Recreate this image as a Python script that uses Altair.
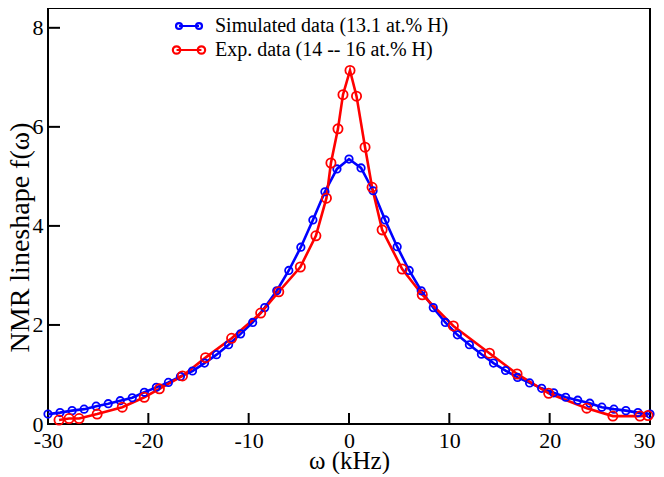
import altair as alt
import pandas as pd

FONT = "Liberation Serif"
SIM_LABEL = "Simulated data (13.1 at.% H)"
EXP_LABEL = "Exp. data (14 -- 16 at.% H)"

# Simulated data (blue)
sim_x = [-30.0, -28.8, -27.6, -26.4, -25.2, -24.0, -22.8, -21.6, -20.4, -19.2,
         -18.0, -16.8, -15.6, -14.4, -13.2, -12.0, -10.8, -9.6, -8.4, -7.2,
         -6.0, -4.8, -3.6, -2.4, -1.2, 0.0, 1.2, 2.4, 3.6, 4.8,
         6.0, 7.2, 8.4, 9.6, 10.8, 12.0, 13.2, 14.4, 15.6, 16.8,
         18.0, 19.2, 20.4, 21.6, 22.8, 24.0, 25.2, 26.4, 27.6, 28.8, 30.0]
sim_y = [0.20, 0.23, 0.27, 0.30, 0.36, 0.41, 0.47, 0.53, 0.64, 0.74,
         0.84, 0.96, 1.07, 1.23, 1.40, 1.60, 1.82, 2.05, 2.35, 2.69,
         3.10, 3.57, 4.12, 4.69, 5.15, 5.35, 5.17, 4.71, 4.12, 3.58,
         3.10, 2.69, 2.35, 2.05, 1.80, 1.60, 1.41, 1.23, 1.08, 0.94,
         0.83, 0.72, 0.63, 0.54, 0.48, 0.42, 0.34, 0.30, 0.27, 0.23, 0.20]

exp_x = [-28.9, -27.9, -26.9, -25.1, -22.6, -20.4, -18.9, -16.6, -14.3, -11.7,
         -8.8, -7.0, -4.85, -3.3, -2.25, -1.8, -1.1, -0.6, 0.1, 0.75,
         1.6, 2.3, 3.3, 5.3, 7.3, 10.4, 14.0, 16.75, 19.9, 23.7,
         26.3, 29.0, 29.8]
exp_y = [0.08, 0.11, 0.11, 0.20, 0.34, 0.54, 0.71, 0.97, 1.34, 1.73,
         2.24, 2.67, 3.17, 3.80, 4.56, 5.27, 5.96, 6.65, 7.14, 6.62,
         5.59, 4.78, 3.92, 3.13, 2.61, 1.98, 1.43, 1.01, 0.62, 0.32,
         0.16, 0.16, 0.17]

x_label_values = [-30, -20, -10, 0, 10, 20, 30]
x_tick_values = [-20, -10, 0, 10, 20]
y_label_values = [0, 2, 4, 6, 8]
y_tick_values = [2, 4, 6, 8]

df = pd.concat([
    pd.DataFrame({"x": sim_x, "y": sim_y, "series": SIM_LABEL}),
    pd.DataFrame({"x": exp_x, "y": exp_y, "series": EXP_LABEL}),
], ignore_index=True)
xt = pd.DataFrame({"x": x_tick_values})
yt = pd.DataFrame({"y": y_tick_values})

W, H = 602, 416
XTICK_LEN, YTICK_LEN = 11, 12

xscale = alt.Scale(domain=[-30, 30], nice=False, zero=False)
yscale = alt.Scale(domain=[0, 8.4], nice=False, zero=False)
color_scale = alt.Scale(domain=[SIM_LABEL, EXP_LABEL], range=["#0000ff", "#ff0000"])

legend_symbol = ("M-3.5,0A0.8,0.8,0,1,1,-1.9,0A0.8,0.8,0,1,1,-3.5,0"
                 "M-2.7,0L2.7,0"
                 "M1.9,0A0.8,0.8,0,1,1,3.5,0A0.8,0.8,0,1,1,1.9,0")

x_axis = alt.Axis(
    orient="bottom", values=x_label_values, ticks=False, domain=False, grid=False,
    labelExpr="'' + datum.value",
    labelAlign={"condition": {"test": "datum.value == 30", "value": "right"}, "value": "center"},
    labelOffset={"condition": {"test": "datum.value == 30", "value": 5}, "value": 0},
    labelFont=FONT, labelFontSize=22, labelColor="black", labelPadding=6,
    labelFlush=False, labelOverlap=False,
    title="ω (kHz)", titleFont=FONT, titleFontSize=25, titleFontWeight="normal",
    titleColor="black", titleX=W / 2, titleY=44, titleBaseline="alphabetic")
y_axis = alt.Axis(
    orient="left", values=y_label_values, ticks=False, domain=False, grid=False,
    labelExpr="'' + datum.value",
    labelFont=FONT, labelFontSize=22, labelColor="black", labelPadding=5,
    labelOverlap=False, labelFlush=False,
    title="NMR lineshape f(ω)", titleFont=FONT, titleFontSize=28,
    titleFontWeight="normal", titleColor="black", titleX=-19.5, titleY=229,
    titleBaseline="alphabetic", titleAngle=270)

lines = alt.Chart(df).mark_line(strokeWidth=2.6).encode(
    x=alt.X("x:Q", scale=xscale, axis=x_axis),
    y=alt.Y("y:Q", scale=yscale, axis=y_axis),
    color=alt.Color("series:N", scale=color_scale, legend=alt.Legend(
        title=None, orient="none", legendX=131, legendY=8, symbolType=legend_symbol,
        symbolSize=100, symbolStrokeWidth=2.2, symbolFillColor="transparent",
        labelFont=FONT, labelFontSize=20, labelColor="black", labelOffset=16,
        rowPadding=4, padding=0, labelLimit=0)),
    detail="series:N",
)

points = alt.Chart(df).mark_point(filled=False, strokeWidth=1.8, opacity=1).encode(
    x=alt.X("x:Q", scale=xscale, axis=x_axis),
    y=alt.Y("y:Q", scale=yscale, axis=y_axis),
    color=alt.Color("series:N", scale=color_scale, legend=None),
    size=alt.Size("series:N", scale=alt.Scale(domain=[SIM_LABEL, EXP_LABEL], range=[55, 85]),
                  legend=None),
)

x_ticks = alt.Chart(xt).mark_rule(color="black", strokeWidth=2).encode(
    x=alt.X("x:Q", scale=xscale, axis=x_axis),
    y=alt.value(H),
    y2=alt.value(H - XTICK_LEN),
)

y_ticks = alt.Chart(yt).mark_rule(color="black", strokeWidth=2).encode(
    y=alt.Y("y:Q", scale=yscale, axis=y_axis),
    x=alt.value(0),
    x2=alt.value(YTICK_LEN),
)

chart = alt.layer(lines, points, x_ticks, y_ticks).properties(
    width=W, height=H,
    padding={"left": 40, "top": 0, "right": 6, "bottom": 50},
    autosize=alt.AutoSizeParams(type="none"),
    background="white",
).configure_view(stroke="black", strokeWidth=2)

chart.save("out.html", embed_options={"renderer": "svg", "actions": False})
